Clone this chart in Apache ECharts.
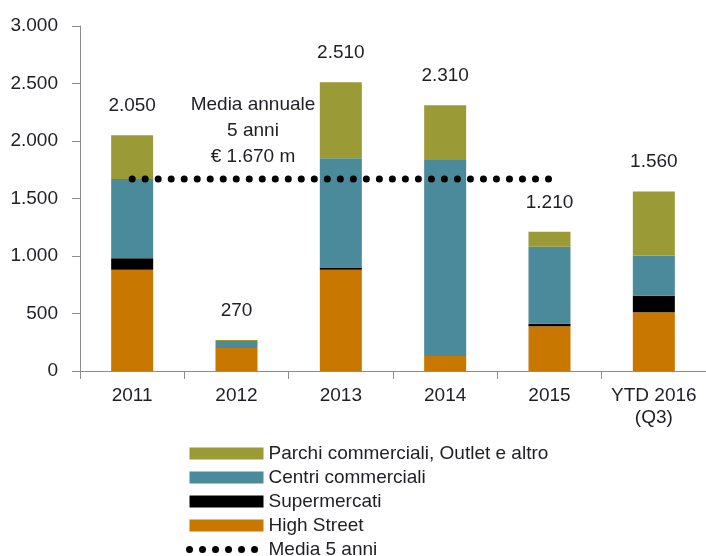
<!DOCTYPE html>
<html>
<head>
<meta charset="utf-8">
<script src="https://cdn.jsdelivr.net/npm/echarts@6/dist/echarts.min.js"></script>
<style>
html,body{margin:0;padding:0;background:#fff;}
#c{width:706px;height:556px;}
</style>
</head>
<body>
<div id="c"></div>
<script>
const categories = ["2011", "2012", "2013", "2014", "2015", "YTD 2016\n(Q3)"];
const highStreet = [880, 200, 880, 130, 390, 510];
const supermercati = [100, 0, 20, 0, 20, 145];
const centri = [690, 60, 950, 1705, 670, 350];
const parchi = [380, 10, 660, 475, 130, 555];
const totals = [2050, 270, 2510, 2310, 1210, 1560];
const mediaValue = 1670;
const media = [1670, 1670, 1670, 1670, 1670, null];
const yTicks = [0, 500, 1000, 1500, 2000, 2500, 3000];

const FONT = '"Liberation Sans", Arial, sans-serif';
const TXT = '#1e1e24';
function fmt(v) {
  return String(v).replace(/\B(?=(\d{3})+(?!\d))/g, '.');
}
const dotStyle = { color: '#000', width: 7, type: [0.01, 13], cap: 'round' };

const chart = echarts.init(document.getElementById('c'), null, { renderer: 'canvas' });
chart.setOption({
  animation: false,
  textStyle: { fontFamily: FONT },
  grid: { left: 80, right: -10, top: 26, bottom: 185, containLabel: false },
  xAxis: {
    type: 'category',
    data: categories,
    axisLine: { lineStyle: { color: '#8c8c8c', width: 1 } },
    axisTick: { show: true, length: 8, lineStyle: { color: '#8c8c8c' } },
    axisLabel: { interval: 0, fontSize: 19, color: TXT, margin: 14, lineHeight: 22, fontFamily: FONT, hideOverlap: false }
  },
  yAxis: {
    type: 'value',
    min: yTicks[0],
    max: yTicks[yTicks.length - 1],
    interval: 500,
    splitLine: { show: false },
    axisLine: { show: true, lineStyle: { color: '#8c8c8c', width: 1 } },
    axisTick: { show: true, length: 8, lineStyle: { color: '#8c8c8c' } },
    axisLabel: { fontSize: 19, color: TXT, margin: 22, fontFamily: FONT, formatter: v => fmt(v) }
  },
  legend: {
    orient: 'vertical',
    left: 186,
    top: 444,
    height: 200,
    padding: 0,
    itemWidth: 74,
    itemHeight: 12,
    itemGap: 5,
    textStyle: { fontSize: 19, color: TXT, lineHeight: 19, fontFamily: FONT },
    data: [
      { name: 'Parchi commerciali, Outlet e altro', icon: 'rect' },
      { name: 'Centri commerciali', icon: 'rect' },
      { name: 'Supermercati', icon: 'rect' },
      { name: 'High Street', icon: 'rect' },
      { name: 'Media 5 anni', lineStyle: dotStyle, itemStyle: { opacity: 0 } }
    ]
  },
  graphic: [{
    type: 'text',
    x: 253,
    y: 92,
    style: {
      text: 'Media annuale\n5 anni\n€ ' + fmt(mediaValue) + ' m',
      fontSize: 19,
      lineHeight: 26,
      fontFamily: FONT,
      fill: TXT,
      textAlign: 'center',
      textVerticalAlign: 'top'
    },
    z: 10
  }],
  series: [
    { name: 'High Street', type: 'bar', stack: 'a', barWidth: 42, data: highStreet, itemStyle: { color: '#c87700' } },
    { name: 'Supermercati', type: 'bar', stack: 'a', barWidth: 42, data: supermercati, itemStyle: { color: '#000000' } },
    { name: 'Centri commerciali', type: 'bar', stack: 'a', barWidth: 42, data: centri, itemStyle: { color: '#4a8a9a' } },
    {
      name: 'Parchi commerciali, Outlet e altro', type: 'bar', stack: 'a', barWidth: 42, data: parchi,
      itemStyle: { color: '#9a9a36' },
      label: {
        show: true, position: 'top', distance: 20, fontSize: 19, color: TXT, fontFamily: FONT,
        formatter: p => fmt(totals[p.dataIndex])
      }
    },
    {
      name: 'Media 5 anni', type: 'line', data: media, symbol: 'none',
      lineStyle: dotStyle, itemStyle: { color: '#000' }, z: 5
    }
  ]
});
</script>
</body>
</html>
